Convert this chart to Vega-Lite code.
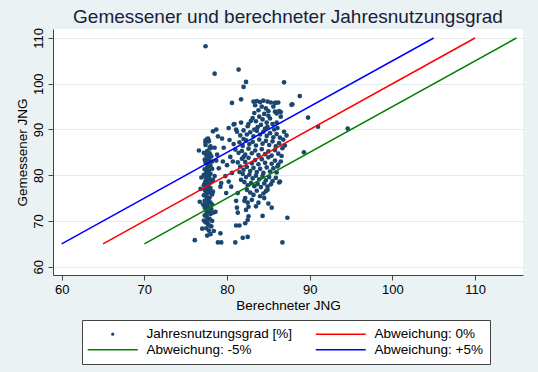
{
  "$schema": "https://vega.github.io/schema/vega-lite/v6.json",
  "autosize": {"type": "none"},
  "padding": {"left": 53, "top": 29, "right": 15, "bottom": 97},
  "width": 470,
  "height": 246,
  "background": "#EAF2F3",
  "title": {
    "text": "Gemessener und berechneter Jahresnutzungsgrad",
    "font": "Liberation Sans",
    "fontSize": 19,
    "fontWeight": "normal",
    "color": "#18203a",
    "anchor": "middle",
    "baseline": "alphabetic",
    "offset": 6,
    "dy": 20
  },
  "config": {
    "view": {"fill": "white", "stroke": null},
    "font": "Liberation Sans",
    "axis": {
      "labelFont": "Liberation Sans",
      "titleFont": "Liberation Sans",
      "labelFontSize": 13,
      "titleFontSize": 13.5,
      "titleFontWeight": "normal",
      "labelColor": "#000",
      "titleColor": "#000",
      "domainColor": "#444",
      "tickColor": "#444",
      "tickSize": 5,
      "gridColor": "#E3ECEE",
      "gridWidth": 1
    },
    "legend": {"fillColor": "white", "strokeColor": "#444"}
  },
  "datasets": {
    "pts": [
      {"x":77.6,"y":66.8},{"x":78.0,"y":67.1},{"x":77.8,"y":67.9},{"x":77.5,"y":68.4},{"x":78.1,"y":68.8},{"x":77.7,"y":69.3},{"x":77.4,"y":69.7},{"x":78.2,"y":70.0},{"x":77.9,"y":70.4},{"x":77.6,"y":70.8},{"x":77.3,"y":71.2},{"x":78.0,"y":71.5},{"x":77.7,"y":71.9},{"x":77.5,"y":72.3},{"x":78.1,"y":72.6},{"x":77.8,"y":73.0},{"x":77.4,"y":73.3},{"x":77.6,"y":73.7},{"x":78.0,"y":74.0},{"x":77.3,"y":74.4},{"x":77.7,"y":74.7},{"x":77.9,"y":75.1},{"x":77.5,"y":75.4},{"x":78.2,"y":75.8},{"x":77.6,"y":76.1},{"x":77.4,"y":76.5},{"x":77.8,"y":76.8},{"x":78.0,"y":77.2},{"x":77.5,"y":77.5},{"x":77.7,"y":77.9},{"x":77.3,"y":78.2},{"x":78.1,"y":78.5},{"x":77.6,"y":78.9},{"x":77.9,"y":79.2},{"x":77.4,"y":79.6},{"x":77.7,"y":79.9},{"x":78.0,"y":80.3},{"x":77.5,"y":80.6},{"x":77.8,"y":81.0},{"x":77.3,"y":81.3},{"x":77.6,"y":81.7},{"x":78.0,"y":82.0},{"x":77.7,"y":82.4},{"x":77.4,"y":82.8},{"x":77.9,"y":83.1},{"x":77.6,"y":83.5},{"x":77.8,"y":83.9},{"x":77.5,"y":84.3},{"x":77.9,"y":84.8},{"x":77.6,"y":85.3},{"x":78.0,"y":85.9},{"x":77.4,"y":86.6},{"x":77.8,"y":87.4},{"x":77.7,"y":88.0},
      {"x":77.2,"y":70.1},{"x":77.9,"y":69.0},{"x":78.3,"y":71.8},{"x":77.3,"y":72.9},{"x":78.2,"y":73.6},{"x":77.8,"y":74.3},{"x":77.2,"y":75.6},{"x":78.3,"y":76.4},{"x":77.9,"y":77.0},{"x":77.2,"y":77.8},{"x":78.3,"y":79.0},{"x":77.8,"y":79.7},{"x":77.2,"y":80.1},{"x":78.2,"y":81.4},{"x":77.9,"y":82.5},{"x":77.3,"y":83.4},{"x":78.1,"y":84.1},{"x":77.2,"y":84.9},{"x":77.5,"y":71.5},{"x":77.9,"y":72.1},{"x":77.6,"y":75.0},{"x":77.4,"y":78.7},{"x":77.7,"y":81.9},{"x":77.5,"y":82.9},{"x":77.6,"y":70.0},{"x":78.0,"y":76.2},{"x":77.3,"y":76.9},{"x":77.8,"y":78.1},{"x":77.7,"y":80.8},{"x":78.2,"y":83.0},{"x":77.9,"y":86.0},{"x":77.4,"y":87.2},{"x":77.7,"y":85.0},
      {"x":76.7,"y":74.2},{"x":76.6,"y":85.4},{"x":76.1,"y":65.8},{"x":77.4,"y":87.6},{"x":77.8,"y":87.5},{"x":77.6,"y":87.9},{"x":78.3,"y":89.6},{"x":78.0,"y":86.3},{"x":78.5,"y":86.0},{"x":76.9,"y":79.5},{"x":76.8,"y":77.0},{"x":78.6,"y":72.0},{"x":78.5,"y":79.8},{"x":78.7,"y":83.2},{"x":77.0,"y":68.3},{"x":78.4,"y":67.8},{"x":77.1,"y":73.6},
      {"x":83.2,"y":96.1},{"x":83.6,"y":96.2},{"x":84.0,"y":96.0},{"x":84.4,"y":96.3},{"x":84.9,"y":96.1},{"x":85.3,"y":95.9},{"x":85.9,"y":95.8},{"x":83.4,"y":95.3},{"x":84.2,"y":95.0},{"x":84.7,"y":94.6},{"x":83.8,"y":94.2},{"x":83.3,"y":93.6},{"x":84.5,"y":93.4},{"x":85.0,"y":93.0},{"x":83.9,"y":92.8},{"x":84.3,"y":92.2},{"x":83.5,"y":91.8},{"x":84.8,"y":91.5},{"x":85.2,"y":92.4},{"x":84.1,"y":91.0},{"x":83.7,"y":90.5},{"x":84.6,"y":90.2},{"x":85.5,"y":91.2},{"x":83.1,"y":92.5},{"x":85.0,"y":94.0},{"x":86.0,"y":93.5},{"x":86.3,"y":94.0},{"x":86.5,"y":92.8},{"x":85.8,"y":93.9},{"x":85.6,"y":95.0},
      {"x":81.2,"y":89.5},{"x":81.6,"y":88.7},{"x":82.0,"y":89.8},{"x":82.4,"y":88.9},{"x":82.8,"y":89.4},{"x":83.2,"y":88.5},{"x":83.6,"y":89.7},{"x":84.0,"y":88.9},{"x":84.4,"y":89.5},{"x":84.8,"y":88.6},{"x":85.2,"y":89.2},{"x":85.6,"y":88.3},{"x":86.0,"y":89.0},{"x":86.4,"y":88.2},{"x":86.8,"y":87.8},{"x":81.5,"y":87.2},{"x":81.9,"y":86.4},{"x":82.3,"y":87.6},{"x":82.7,"y":86.8},{"x":83.1,"y":87.3},{"x":83.5,"y":86.5},{"x":83.9,"y":87.8},{"x":84.3,"y":86.9},{"x":84.7,"y":87.5},{"x":85.1,"y":86.6},{"x":85.5,"y":87.4},{"x":85.9,"y":86.3},{"x":86.3,"y":87.0},{"x":86.7,"y":85.9},{"x":81.0,"y":85.6},{"x":81.4,"y":84.9},{"x":81.8,"y":85.3},{"x":82.2,"y":84.5},{"x":82.6,"y":85.8},{"x":83.0,"y":84.8},{"x":83.4,"y":85.4},{"x":83.8,"y":84.4},{"x":84.2,"y":85.7},{"x":84.6,"y":84.6},{"x":85.0,"y":85.2},{"x":85.4,"y":84.3},{"x":85.8,"y":85.5},{"x":86.2,"y":84.7},{"x":86.6,"y":84.2},{"x":82.0,"y":87.9},{"x":83.3,"y":90.0},{"x":84.9,"y":90.6},{"x":86.1,"y":90.3},{"x":82.5,"y":90.7},{"x":81.7,"y":91.5},{"x":82.9,"y":91.9},{"x":80.9,"y":91.2},{"x":82.6,"y":91.2},{"x":80.8,"y":86.8},{"x":80.3,"y":87.7},{"x":80.2,"y":90.3},{"x":81.1,"y":90.0},{"x":86.9,"y":89.5},{"x":87.2,"y":88.7},{"x":87.0,"y":86.5},{"x":86.0,"y":91.5},{"x":85.7,"y":90.0},{"x":87.9,"y":95.5},{"x":88.8,"y":97.3},{"x":89.8,"y":92.6},{"x":86.5,"y":93.8},{"x":86.2,"y":95.9},
      {"x":81.8,"y":83.6},{"x":82.2,"y":82.9},{"x":82.6,"y":83.8},{"x":83.0,"y":82.6},{"x":83.4,"y":83.3},{"x":83.8,"y":82.4},{"x":84.2,"y":83.5},{"x":84.6,"y":82.7},{"x":85.0,"y":83.9},{"x":85.4,"y":82.5},{"x":85.8,"y":83.2},{"x":86.2,"y":82.3},{"x":81.6,"y":81.9},{"x":82.0,"y":81.2},{"x":82.4,"y":81.8},{"x":82.8,"y":80.9},{"x":83.2,"y":81.6},{"x":83.6,"y":80.7},{"x":84.0,"y":81.4},{"x":84.4,"y":80.5},{"x":84.8,"y":81.7},{"x":85.2,"y":80.8},{"x":85.6,"y":81.5},{"x":86.0,"y":80.6},{"x":81.9,"y":80.3},{"x":82.3,"y":79.6},{"x":82.7,"y":80.1},{"x":83.1,"y":79.3},{"x":83.5,"y":79.9},{"x":83.9,"y":79.1},{"x":84.3,"y":79.8},{"x":84.7,"y":78.9},{"x":85.1,"y":79.6},{"x":85.5,"y":78.7},{"x":85.9,"y":79.4},{"x":82.1,"y":78.5},{"x":82.5,"y":77.8},{"x":82.9,"y":78.3},{"x":83.3,"y":77.6},{"x":83.7,"y":78.1},{"x":84.1,"y":77.4},{"x":84.5,"y":78.2},{"x":84.9,"y":77.5},{"x":85.3,"y":78.0},{"x":82.4,"y":76.8},{"x":82.8,"y":76.2},{"x":83.2,"y":75.7},{"x":83.6,"y":76.6},{"x":84.0,"y":75.4},{"x":84.4,"y":76.0},{"x":82.2,"y":75.0},{"x":82.5,"y":74.0},{"x":82.6,"y":73.1},{"x":82.3,"y":72.4},{"x":82.6,"y":71.0},{"x":82.5,"y":70.2},{"x":82.2,"y":69.5},{"x":83.0,"y":74.6},{"x":83.8,"y":74.0},{"x":84.5,"y":75.0},{"x":84.7,"y":76.5},{"x":84.9,"y":76.8},{"x":85.4,"y":72.9},{"x":85.0,"y":73.8},{"x":83.5,"y":73.2},{"x":86.4,"y":78.6},{"x":86.3,"y":78.4},{"x":86.1,"y":81.9},{"x":86.5,"y":83.0},{"x":82.0,"y":84.0},{"x":81.3,"y":82.8},{"x":81.5,"y":80.7},{"x":81.7,"y":79.0},{"x":81.3,"y":76.1},{"x":81.1,"y":74.4},{"x":82.1,"y":74.4},{"x":81.2,"y":72.9},{"x":81.3,"y":71.8},{"x":81.1,"y":69.0},{"x":81.5,"y":69.0},{"x":84.3,"y":71.1},{"x":87.3,"y":70.7},{"x":79.2,"y":67.3},{"x":78.9,"y":65.3},{"x":79.3,"y":65.3},{"x":81.0,"y":65.3},{"x":81.9,"y":66.3},{"x":82.5,"y":66.5},{"x":86.7,"y":65.3},{"x":80.2,"y":78.6},{"x":79.9,"y":76.1},{"x":79.2,"y":77.5},{"x":79.3,"y":78.3},{"x":80.5,"y":77.5},{"x":89.3,"y":85.0},{"x":91.0,"y":90.6},{"x":94.6,"y":90.2},
      {"x":78.8,"y":84.5},{"x":79.5,"y":83.0},{"x":79.0,"y":81.5},{"x":80.0,"y":82.2},{"x":80.4,"y":84.0},{"x":79.6,"y":86.0},{"x":78.9,"y":88.5},{"x":80.6,"y":80.5},{"x":79.8,"y":79.8},{"x":80.7,"y":83.0},{"x":78.7,"y":90.0},{"x":79.4,"y":88.0},
      {"x":77.4,"y":108.2},{"x":78.5,"y":102.2},{"x":81.4,"y":103.1},{"x":82.3,"y":100.4},{"x":82.0,"y":99.3},{"x":86.9,"y":100.3},{"x":80.6,"y":95.8},{"x":81.7,"y":96.6},{"x":80.8,"y":91.1},{"x":85.8,"y":95.8},{"x":87.8,"y":95.4}
    ],
    "lines": [
      {"series":"Abweichung: +5%","x":60,"y":65},{"series":"Abweichung: +5%","x":105,"y":110},
      {"series":"Abweichung: 0%","x":65,"y":65},{"series":"Abweichung: 0%","x":110,"y":110},
      {"series":"Abweichung: -5%","x":70,"y":65},{"series":"Abweichung: -5%","x":115,"y":110}
    ]
  },
  "encoding": {
    "x": {
      "type": "quantitative",
      "scale": {"domain": [58.95, 115.8], "nice": false, "zero": false},
      "axis": {"values": [60,70,80,90,100,110], "grid": false, "title": "Berechneter JNG", "labelPadding": 3, "titlePadding": 2}
    },
    "y": {
      "type": "quantitative",
      "scale": {"domain": [58.18, 111.97], "nice": false, "zero": false},
      "axis": {"values": [60,70,80,90,100,110], "grid": true, "title": "Gemessener JNG", "labelAngle": -90, "labelAlign": "center", "labelBaseline": "bottom", "labelPadding": 3, "titlePadding": 3}
    }
  },
  "layer": [
    {
      "data": {"name": "pts"},
      "mark": {"type": "point", "filled": true, "size": 22, "opacity": 1},
      "encoding": {
        "x": {"field": "x", "type": "quantitative"},
        "y": {"field": "y", "type": "quantitative"},
        "color": {"datum": "Jahresnutzungsgrad [%]"}
      }
    },
    {
      "data": {"name": "lines"},
      "mark": {"type": "line", "strokeWidth": 1.5},
      "encoding": {
        "x": {"field": "x", "type": "quantitative"},
        "y": {"field": "y", "type": "quantitative"},
        "color": {
          "field": "series",
          "type": "nominal",
          "scale": {
            "domain": ["Jahresnutzungsgrad [%]", "Abweichung: 0%", "Abweichung: -5%", "Abweichung: +5%"],
            "range": ["#1a476f", "#ff0000", "#008000", "#0000ff"]
          },
          "legend": {
            "title": null,
            "orient": "none",
            "legendX": 29,
            "legendY": 291,
            "direction": "horizontal",
            "columns": 2,
            "columnPadding": 19,
            "rowPadding": 1,
            "padding": 7,
            "fillColor": "white",
            "strokeColor": "#444",
            "labelFont": "Liberation Sans",
            "labelFontSize": 13.5,
            "labelColor": "#000",
            "labelOffset": 27,
            "labelLimit": 300,
            "symbolOffset": 17,
            "symbolType": "stroke",
            "symbolSize": 2500,
            "symbolStrokeWidth": 1.5,
            "encode": {
              "legend": {
                "update": {
                  "fill": {"value": "white"},
                  "stroke": {"value": "#444"},
                  "strokeWidth": {"value": 1}
                }
              },
              "symbols": {
                "update": {
                  "shape": {"signal": "datum.value === 'Jahresnutzungsgrad [%]' ? 'circle' : 'stroke'"},
                  "size": {"signal": "datum.value === 'Jahresnutzungsgrad [%]' ? 10 : 2500"},
                  "fill": {"signal": "datum.value === 'Jahresnutzungsgrad [%]' ? '#1a476f' : 'transparent'"},
                  "stroke": {"signal": "datum.value === 'Jahresnutzungsgrad [%]' ? 'transparent' : scale('color', datum.value)"},
                  "strokeWidth": {"signal": "datum.value === 'Jahresnutzungsgrad [%]' ? 0 : 1.5"},
                  "opacity": {"value": 1}
                }
              }
            }
          }
        }
      }
    }
  ]
}
